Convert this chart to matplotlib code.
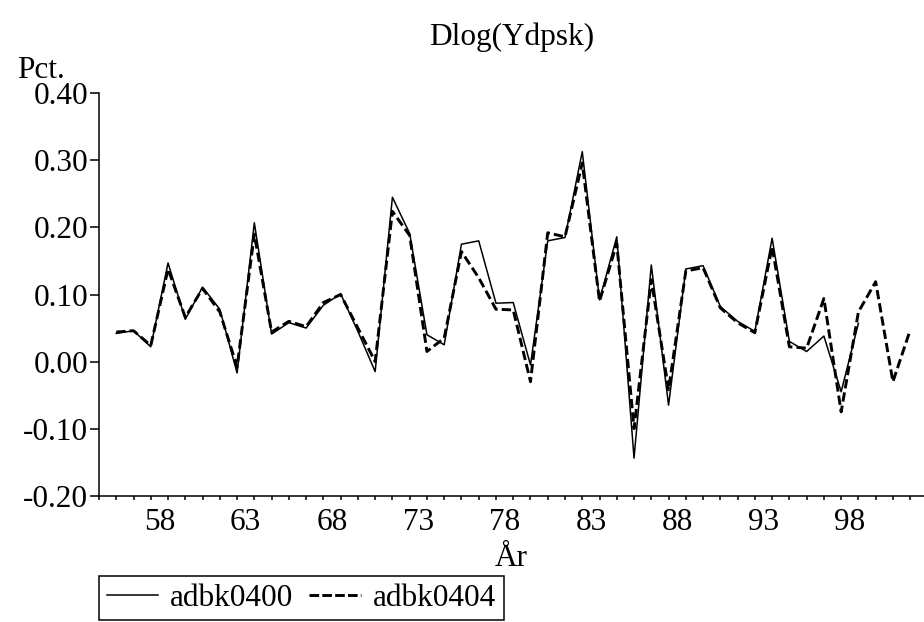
import matplotlib
matplotlib.use("Agg")
import matplotlib.pyplot as plt
from matplotlib.lines import Line2D

plt.rcParams['font.family'] = ['Liberation Serif', 'DejaVu Serif']

years = list(range(56, 103))
adbk0400 = [0.042, 0.046, 0.022, 0.147, 0.063, 0.111, 0.078, -0.017, 0.207, 0.041,
            0.058, 0.050, 0.084, 0.101, 0.045, -0.015, 0.245, 0.191, 0.040, 0.025,
            0.175, 0.180, 0.087, 0.088, -0.005, 0.180, 0.185, 0.313, 0.092, 0.186,
            -0.144, 0.144, -0.065, 0.138, 0.143, 0.082, 0.060, 0.045, 0.184, 0.030,
            0.015, 0.038, -0.045, 0.057]
adbk0404 = [0.044, 0.046, 0.024, 0.138, 0.066, 0.109, 0.074, -0.008, 0.190, 0.044,
            0.060, 0.052, 0.088, 0.100, 0.050, 0.000, 0.224, 0.188, 0.015, 0.035,
            0.164, 0.125, 0.078, 0.077, -0.030, 0.192, 0.186, 0.296, 0.090, 0.176,
            -0.100, 0.122, -0.042, 0.135, 0.140, 0.080, 0.058, 0.043, 0.171, 0.022,
            0.020, 0.094, -0.075, 0.074, 0.119, -0.030, 0.047]
xtick_labels = ['58', '63', '68', '73', '78', '83', '88', '93', '98']
ytick_values = [-0.20, -0.10, 0.00, 0.10, 0.20, 0.30, 0.40]

FS = 22.5
W, H = 924, 622
fig = plt.figure(figsize=(W / 100, H / 100), dpi=100)
ax = fig.add_axes([99 / W, 1 - 495.7 / H, (924 - 99) / W, (495.7 - 93.3) / H])

DASH = (3.2, 1.4)
ax.plot(years[:len(adbk0400)], adbk0400, color='black', lw=1.1, label='adbk0400')
ax.plot(years, adbk0404, color='black', lw=2.1, dashes=DASH, label='adbk0404')

ax.set_xlim(55, 102.8)
ax.set_ylim(-0.20, 0.40)
for s in ['top', 'right']:
    ax.spines[s].set_visible(False)
for s in ['left', 'bottom']:
    ax.spines[s].set_linewidth(1.1)

ax.set_yticks(ytick_values)
ax.set_yticklabels([f'{v:.2f}' for v in ytick_values], fontsize=FS)
ax.tick_params(axis='y', direction='out', length=6.5, width=1.1, pad=1.5)

ax.set_xticks(list(range(55, 103)))
ax.set_xticklabels([])
ax.tick_params(axis='x', which='major', direction='out', length=3, width=1.1)
ax.set_xticks([int(l) + 0.5 for l in xtick_labels], minor=True)
ax.set_xticklabels(xtick_labels, minor=True, fontsize=FS)
ax.tick_params(axis='x', which='minor', length=0, pad=9)

fig.text(511.5 / W, 1 - 45 / H, 'Dlog(Ydpsk)', ha='center', va='baseline', fontsize=FS)
fig.text(17 / W, 1 - 78 / H, 'Pct.', ha='left', va='baseline', fontsize=FS)
fig.text(511 / W, 1 - 566 / H, 'År', ha='center', va='baseline', fontsize=FS)

handles = [Line2D([], [], color='black', lw=1.1),
           Line2D([], [], color='black', lw=2.1, dashes=(3.3, 1.1))]
leg = fig.legend(handles, ['adbk0400', 'adbk0404'], ncol=2, loc='lower left',
                 bbox_to_anchor=(99 / W, 2 / H), borderaxespad=0, fontsize=FS,
                 frameon=True, fancybox=False, edgecolor='black', framealpha=1,
                 handlelength=1.65, handletextpad=0.38, columnspacing=0.52,
                 borderpad=0.24)
leg.get_frame().set_linewidth(1.1)

fig.savefig('out.png', dpi=100)
